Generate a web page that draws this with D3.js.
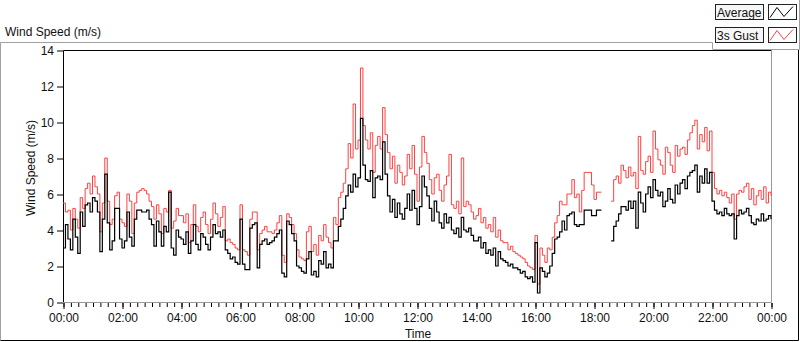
<!DOCTYPE html>
<html>
<head>
<meta charset="utf-8">
<script src="https://cdn.jsdelivr.net/npm/d3@7"></script>
<style>
  body { margin: 0; background: #fff; }
  svg text { font-family: "Liberation Sans", Arial, sans-serif; font-size: 12px; fill: #111; }
</style>
</head>
<body>
<div class="container"></div>
<script>

// 5 minute samples, 00:00 .. 24:00 (null = no data)
const average = [
  3.0, 4.3, 3.5, 2.9, 4.6, 3.6, 2.7, 5.0, 4.2, 5.4, 5.5, 5.0,
  5.8, 5.6, 5.0, 2.8, 4.6, 7.1, 4.4, 2.9, 3.4, 5.2, 5.2, 3.5,
  3.0, 3.4, 5.0, 3.6, 3.1, 4.6, 5.1, 5.1, 5.0, 5.0, 5.1, 4.6,
  4.3, 3.1, 4.5, 3.9, 3.1, 4.2, 3.9, 6.1, 3.0, 2.6, 4.0, 3.6,
  3.5, 3.2, 3.9, 2.7, 3.4, 4.3, 3.2, 2.9, 3.8, 3.6, 3.2, 2.9,
  3.6, 4.3, 3.8, 3.9, 3.6, 4.0, 2.9, 2.7, 2.4, 2.5, 2.2, 2.1,
  4.6, 2.1, 1.8, 1.8, 4.1, 4.3, 4.4, 1.9, 3.2, 3.4, 3.5, 3.2,
  3.3, 3.4, 3.6, 3.8, 4.0, 1.6, 1.4, 4.5, 4.3, 3.8, 3.4, 2.0,
  1.9, 1.7, 1.6, 2.4, 2.8, 1.5, 1.7, 1.4, 2.3, 2.1, 2.8, 1.9,
  2.1, 1.9, 3.4, 3.4, 4.2, 4.6, 5.2, 5.9, 6.5, 6.1, 7.1, 6.4,
  6.9, 10.2, 7.6, 6.8, 6.7, 7.3, 5.8, 6.9, 7.0, 6.8, 8.9, 7.1,
  5.9, 5.0, 5.7, 4.7, 5.5, 4.9, 4.6, 5.2, 6.0, 5.1, 6.2, 5.2,
  4.3, 5.3, 7.0, 6.4, 5.9, 5.2, 4.5, 5.6, 5.0, 4.4, 4.1, 4.9,
  4.4, 4.7, 4.0, 3.8, 4.1, 3.6, 4.7, 4.0, 3.9, 4.1, 3.7, 3.4,
  3.4, 3.6, 3.0, 3.3, 2.7, 2.9, 2.6, 3.0, 2.0, 2.8, 2.4, 2.3,
  2.2, 2.0, 2.1, 1.9, 1.9, 1.8, 1.6, 1.7, 1.4, 1.3, 1.4, 1.1,
  3.3, 0.5, 1.9, 1.7, 1.4, 1.6, 2.0, 2.7, 3.5, 3.6, 3.9, 4.5,
  4.0, 4.8, 4.9, 5.0, 4.3, 4.2, 4.3, 4.3, 5.1, 5.1, 5.1, 4.8,
  4.8, 5.1, 5.1, 5.1, null, null, null, 3.4, 4.2, 4.5, 4.9, 5.3,
  5.3, 5.1, 5.6, 5.2, 5.6, 4.1, 6.1, 5.5, 5.0, 6.0, 6.4, 5.8,
  6.8, 6.2, 5.9, 6.1, 5.3, 5.6, 6.3, 5.7, 5.5, 6.5, 6.0, 6.6,
  6.8, 6.3, 7.0, 7.2, 7.3, 7.6, 6.1, 7.0, 6.6, 7.4, 6.6, 7.2,
  5.6, 5.1, 4.9, 5.0, 4.8, 5.2, 4.9, 4.8, 4.9, 3.5, 4.8, 5.1,
  4.9, 5.0, 5.2, 4.8, 4.4, 4.3, 4.6, 4.5, 4.9, 4.5, 4.6, 4.8,
  4.6
];

const gust = [
  5.5, 5.0, 5.1, 4.0, 5.2, 4.6, 4.1, 5.8, 5.2, 6.3, 6.6, 6.0,
  7.0, 6.4, 6.0, 3.9, 5.5, 8.0, 5.6, 4.3, 4.6, 5.9, 6.1, 4.6,
  4.4, 4.2, 6.0, 5.6, 3.8, 5.5, 6.1, 6.2, 6.3, 6.2, 6.0, 5.6,
  5.3, 4.6, 5.4, 4.9, 3.8, 5.2, 5.0, 6.2, 4.1, 4.5, 5.2, 4.8,
  4.8, 4.4, 4.9, 3.3, 4.3, 5.4, 4.2, 3.9, 4.7, 5.0, 4.3, 3.8,
  4.6, 5.5, 4.9, 4.2, 4.7, 5.3, 3.4, 3.5, 3.3, 3.2, 3.0, 2.9,
  5.4, 2.9, 2.8, 2.6, 4.6, 5.0, 5.0, 2.9, 3.8, 4.0, 4.2, 3.9,
  3.9, 3.8, 4.0, 4.4, 4.8, 2.6, 2.2, 4.9, 4.7, 4.3, 3.8, 2.9,
  2.5, 2.4, 2.3, 3.9, 4.2, 2.8, 3.2, 2.6, 3.7, 3.4, 4.3, 3.6,
  3.3, 3.0, 4.7, 4.3, 5.8, 6.1, 6.6, 7.4, 8.8, 8.0, 11.0, 8.5,
  9.0, 13.0, 9.8, 9.0, 8.5, 9.4, 7.2, 8.7, 9.2, 8.5, 10.8, 9.3,
  8.3, 7.4, 8.1, 6.6, 7.6, 7.2, 6.5, 7.0, 8.2, 7.4, 8.7, 7.1,
  5.6, 7.5, 9.2, 8.3, 7.7, 6.8, 6.0, 6.9, 7.1, 6.2, 5.6, 6.5,
  7.0, 8.2, 5.4, 5.2, 5.6, 4.9, 8.0, 5.3, 5.6, 5.4, 5.0, 4.6,
  4.8, 5.2, 4.4, 4.7, 4.1, 4.3, 3.9, 4.7, 3.6, 4.0, 3.4, 3.3,
  3.3, 2.9, 3.1, 2.8, 2.7, 2.6, 2.5, 2.4, 2.2, 2.0, 1.9, 1.8,
  3.7, 1.0, 3.0, 2.6, 2.2, 3.0, 2.9, 3.6, 4.4, 4.8, 5.6, 5.4,
  5.4, 6.0, 6.0, 6.8, 5.8, 6.0, 5.0, 6.2, 7.2, 7.2, 7.2, 6.5,
  5.7, 6.1, 6.1, 6.1, null, null, null, 5.6, 6.8, 7.0, 6.6, 7.6,
  7.3, 6.9, 7.5, 7.0, 7.2, 6.3, 9.2, 7.3, 7.1, 7.8, 8.1, 7.2,
  9.5, 8.5, 7.9, 7.6, 7.1, 8.6, 8.3, 7.6, 7.2, 8.7, 8.1, 8.5,
  8.6, 8.2, 9.0, 9.4, 9.8, 10.1, 8.5, 9.3, 8.9, 9.7, 8.4, 9.5,
  7.2, 6.3, 6.0, 6.2, 5.9, 6.1, 5.8, 5.5, 6.0, 4.6, 6.0, 6.2,
  6.1, 6.4, 6.6, 5.7, 6.3, 5.4, 5.9, 6.2, 5.7, 6.4, 5.5, 6.1,
  5.9
];

const timeLabels = ['00:00', '02:00', '04:00', '06:00', '08:00', '10:00', '12:00',
                    '14:00', '16:00', '18:00', '20:00', '22:00', '00:00'];
const yTicks = [0, 2, 4, 6, 8, 10, 12, 14];
const legendNames = ['Average', '3s Gust'];
const legendColors = ['#000', '#ff4040'];

const width = 800;
const height = 342;
const plotL = 63, plotR = 771, plotT = 50, plotB = 302;
const stepMin = 5;

const xScale = d3.scaleLinear().domain([0, 1440]).range([plotL, plotR]);
const yScale = d3.scaleLinear().domain([0, 14]).range([plotB, plotT]);

const svg = d3.select('.container')
  .append('svg')
  .attr('width', width)
  .attr('height', height);

// outer frame (sunken look)
svg.append('path').attr('d', `M0.5,340.5 V42.5 H712.5 V49`).attr('fill', 'none').attr('stroke', '#a0a0a0');
svg.append('path').attr('d', `M0.5,340.5 H798.5 V49`).attr('fill', 'none').attr('stroke', '#000');
svg.append('path').attr('d', `M712.5,49.5 H799.5 V0`).attr('fill', 'none').attr('stroke', '#a0a0a0');

svg.append('text').attr('x', 5).attr('y', 36).text('Wind Speed (m/s)');

// plot frame
svg.append('path').attr('d', `M${plotL + 0.5},${plotB} V${plotT + 0.5} H${plotR + 1}`)
  .attr('fill', 'none').attr('stroke', '#000');
svg.append('path').attr('d', `M${plotL},${plotB + 0.5} H${plotR + 0.5} V${plotT}`)
  .attr('fill', 'none').attr('stroke', '#999');

// lines (LabVIEW-like stair rendering)
const line = d3.line()
  .defined(d => d != null)
  .x((d, i) => xScale(i * stepMin))
  .y(d => yScale(d))
  .curve(d3.curveStepAfter);

svg.append('path')
  .attr('d', line(gust))
  .attr('fill', 'none')
  .attr('stroke', legendColors[1])
  .attr('stroke-width', 1);

svg.append('path')
  .attr('d', line(average))
  .attr('fill', 'none')
  .attr('stroke', legendColors[0])
  .attr('stroke-width', 1.2);

// x axis
const minorTicks = d3.range(0, 1441, 15);
const xMinor = d3.axisBottom(xScale).tickValues(minorTicks).tickSize(4).tickFormat('');
svg.append('g').attr('transform', `translate(0.5,${plotB + 1})`).call(xMinor)
  .call(g => g.select('.domain').remove());

const xMajor = d3.axisBottom(xScale)
  .tickValues(d3.range(0, 1441, 120))
  .tickSize(6)
  .tickPadding(4)
  .tickFormat((d, i) => timeLabels[i]);
svg.append('g').attr('transform', `translate(0.5,${plotB + 1})`).call(xMajor)
  .call(g => g.select('.domain').remove())
  .call(g => g.selectAll('text').style('font-size', '12px').style('font-family', null).attr('fill', '#111'));

svg.append('text').attr('x', 418).attr('y', 338).attr('text-anchor', 'middle').text('Time');

// y axis
const yAxis = d3.axisLeft(yScale).tickValues(yTicks).tickSize(6).tickPadding(3);
svg.append('g').attr('transform', `translate(${plotL},0.5)`).call(yAxis)
  .call(g => g.select('.domain').remove())
  .call(g => g.selectAll('text').style('font-size', '12px').style('font-family', null).attr('fill', '#111'));

svg.append('text')
  .attr('transform', `translate(35,168) rotate(-90)`)
  .attr('text-anchor', 'middle')
  .text('Wind Speed (m/s)');

// legend
legendNames.forEach((name, i) => {
  const y0 = 4.5 + i * 23;
  svg.append('rect').attr('x', 715.5).attr('y', y0).attr('width', 48).attr('height', 15)
    .attr('fill', '#f7f7f7').attr('stroke', '#222');
  svg.append('text').attr('x', 717).attr('y', y0 + 12).text(name);
  svg.append('rect').attr('x', 768.5).attr('y', y0).attr('width', 28).attr('height', 15)
    .attr('fill', '#fff').attr('stroke', '#222');
  svg.append('path')
    .attr('d', `M770,${y0 + 13} L777,${y0 + 3} L784,${y0 + 12} L793,${y0 + 2}`)
    .attr('fill', 'none')
    .attr('stroke', legendColors[i]);
});

</script>
</body>
</html>
